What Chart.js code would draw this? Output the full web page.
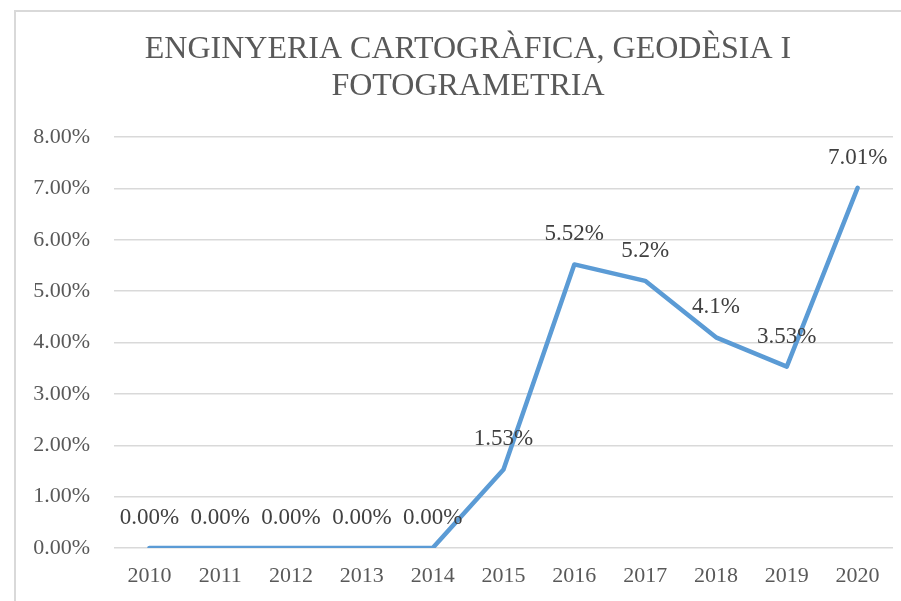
<!DOCTYPE html>
<html>
<head>
<meta charset="utf-8">
<script src="https://cdn.jsdelivr.net/npm/chart.js@4"></script>
<style>
    body { margin: 0; background: #ffffff; overflow: hidden; }
    #wrap { position: relative; width: 901px; height: 601px; overflow: hidden; }
    #frame {
        position: absolute; left: 14px; top: 10px; width: 1000px; height: 700px;
        border: 2px solid #d9d9d9; box-sizing: border-box;
    }
    #chart { position: absolute; left: 0; top: 0; }
</style>
</head>
<body>
<div id="wrap">
    <div id="frame"></div>
    <canvas id="chart" width="901" height="601"></canvas>
</div>
<script>
// Chart data
const years = ['2010', '2011', '2012', '2013', '2014', '2015', '2016', '2017', '2018', '2019', '2020'];
const percentages = [0, 0, 0, 0, 0, 1.53, 5.52, 5.2, 4.1, 3.53, 7.01];
const pointLabels = ['0.00%', '0.00%', '0.00%', '0.00%', '0.00%', '1.53%', '5.52%', '5.2%', '4.1%', '3.53%', '7.01%'];
const titleLines = ['ENGINYERIA CARTOGRÀFICA, GEODÈSIA I', 'FOTOGRAMETRIA'];

const serif = '"Liberation Serif", "Times New Roman", serif';

// Title is centred on the whole chart frame, which runs past the right edge
const frameTitle = {
    id: 'frameTitle',
    afterDraw(chart) {
        const ctx = chart.ctx;
        ctx.save();
        ctx.font = '32px ' + serif;
        ctx.fillStyle = '#595959';
        ctx.textAlign = 'center';
        ctx.textBaseline = 'middle';
        titleLines.forEach((line, i) => {
            ctx.fillText(line, 468, 50 + i * 37);
        });
        ctx.restore();
    }
};

// Draw the value labels above each point
const valueLabels = {
    id: 'valueLabels',
    afterDatasetsDraw(chart) {
        const ctx = chart.ctx;
        const meta = chart.getDatasetMeta(0);
        ctx.save();
        ctx.font = '23px ' + serif;
        ctx.fillStyle = '#404040';
        ctx.textAlign = 'center';
        ctx.textBaseline = 'middle';
        meta.data.forEach((pt, i) => {
            ctx.fillText(pointLabels[i], pt.x, pt.y - 30);
        });
        ctx.restore();
    }
};

new Chart(document.getElementById('chart'), {
    type: 'line',
    data: {
        labels: years,
        datasets: [{
            data: percentages,
            borderColor: '#5b9bd5',
            borderWidth: 4.5,
            pointRadius: 0,
            tension: 0,
            borderCapStyle: 'round',
            borderJoinStyle: 'round',
            fill: false
        }]
    },
    options: {
        responsive: false,
        animation: false,
        layout: { padding: { left: 0, right: 8, top: 137, bottom: 0 } },
        plugins: {
            legend: { display: false },
            tooltip: { enabled: false },
            title: { display: false }
        },
        scales: {
            x: {
                offset: true,
                grid: { display: false, drawTicks: false },
                border: { display: false },
                ticks: {
                    color: '#595959',
                    font: { family: serif, size: 22 },
                    padding: 15,
                    maxRotation: 0
                },
                afterFit(scale) { scale.height = 53; }
            },
            y: {
                min: 0,
                max: 8,
                ticks: {
                    stepSize: 1,
                    color: '#595959',
                    font: { family: serif, size: 22 },
                    padding: 24,
                    callback: value => value.toFixed(2) + '%'
                },
                grid: { color: '#d9d9d9', lineWidth: 1.5, drawTicks: false },
                border: { display: false },
                afterFit(scale) { scale.width = 114; }
            }
        }
    },
    plugins: [valueLabels, frameTitle]
});
</script>
</body>
</html>
